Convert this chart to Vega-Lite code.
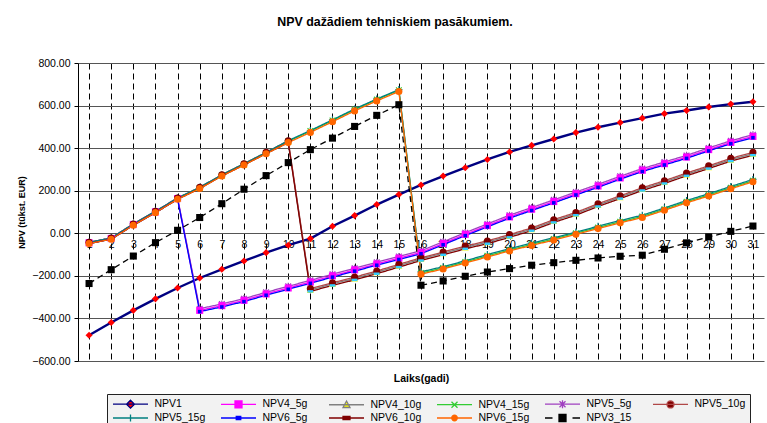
{
  "$schema": "https://vega.github.io/schema/vega-lite/v6.json",
  "width": 686,
  "height": 298,
  "autosize": {"type": "none"},
  "padding": {"left": 78, "top": 63, "right": 3, "bottom": 62},
  "background": "white",
  "config": {"view": {"stroke": null}, "font": "Liberation Sans"},
  "title": {"text": "NPV dažādiem tehniskiem pasākumiem.", "font": "Liberation Sans", "fontSize": 12.4, "fontWeight": "bold", "color": "#000", "anchor": "middle", "dx": -26, "offset": 30},
  "data": {"values": [
    {"t":1,"NPV1":-479,"NPV4_5g":-45,"NPV4_10g":-45,"NPV4_15g":-45,"NPV5_5g":-42,"NPV5_10g":-42,"NPV5_15g":-42,"NPV6_5g":-48,"NPV6_10g":-48,"NPV6_15g":-48,"NPV3_15":-236},
    {"t":2,"NPV1":-419,"NPV4_5g":-25,"NPV4_10g":-25,"NPV4_15g":-25,"NPV5_5g":-22,"NPV5_10g":-22,"NPV5_15g":-22,"NPV6_5g":-28,"NPV6_10g":-28,"NPV6_15g":-28,"NPV3_15":-171},
    {"t":3,"NPV1":-362,"NPV4_5g":41,"NPV4_10g":41,"NPV4_15g":41,"NPV5_5g":44,"NPV5_10g":44,"NPV5_15g":44,"NPV6_5g":38,"NPV6_10g":38,"NPV6_15g":38,"NPV3_15":-107},
    {"t":4,"NPV1":-308,"NPV4_5g":100,"NPV4_10g":100,"NPV4_15g":100,"NPV5_5g":103,"NPV5_10g":103,"NPV5_15g":103,"NPV6_5g":97,"NPV6_10g":97,"NPV6_15g":97,"NPV3_15":-44},
    {"t":5,"NPV1":-257,"NPV4_5g":163,"NPV4_10g":163,"NPV4_15g":163,"NPV5_5g":166,"NPV5_10g":166,"NPV5_15g":166,"NPV6_5g":160,"NPV6_10g":160,"NPV6_15g":160,"NPV3_15":14},
    {"t":6,"NPV1":-210,"NPV4_5g":-362,"NPV4_10g":213,"NPV4_15g":213,"NPV5_5g":-354,"NPV5_10g":216,"NPV5_15g":216,"NPV6_5g":-368,"NPV6_10g":210,"NPV6_15g":210,"NPV3_15":74},
    {"t":7,"NPV1":-169,"NPV4_5g":-340,"NPV4_10g":272,"NPV4_15g":272,"NPV5_5g":-332,"NPV5_10g":275,"NPV5_15g":275,"NPV6_5g":-346,"NPV6_10g":269,"NPV6_15g":269,"NPV3_15":139},
    {"t":8,"NPV1":-130,"NPV4_5g":-315,"NPV4_10g":324,"NPV4_15g":324,"NPV5_5g":-307,"NPV5_10g":327,"NPV5_15g":327,"NPV6_5g":-321,"NPV6_10g":321,"NPV6_15g":321,"NPV3_15":207},
    {"t":9,"NPV1":-91,"NPV4_5g":-285,"NPV4_10g":377,"NPV4_15g":377,"NPV5_5g":-277,"NPV5_10g":380,"NPV5_15g":380,"NPV6_5g":-291,"NPV6_10g":374,"NPV6_15g":374,"NPV3_15":271},
    {"t":10,"NPV1":-56,"NPV4_5g":-257,"NPV4_10g":432,"NPV4_15g":432,"NPV5_5g":-249,"NPV5_10g":435,"NPV5_15g":435,"NPV6_5g":-263,"NPV6_10g":426,"NPV6_15g":426,"NPV3_15":332},
    {"t":11,"NPV1":-25,"NPV4_5g":-229,"NPV4_10g":-266,"NPV4_15g":480,"NPV5_5g":-221,"NPV5_10g":-260,"NPV5_15g":483,"NPV6_5g":-235,"NPV6_10g":-273,"NPV6_15g":474,"NPV3_15":393},
    {"t":12,"NPV1":33,"NPV4_5g":-200,"NPV4_10g":-238,"NPV4_15g":530,"NPV5_5g":-192,"NPV5_10g":-232,"NPV5_15g":533,"NPV6_5g":-206,"NPV6_10g":-245,"NPV6_15g":524,"NPV3_15":447},
    {"t":13,"NPV1":83,"NPV4_5g":-172,"NPV4_10g":-212,"NPV4_15g":581,"NPV5_5g":-164,"NPV5_10g":-206,"NPV5_15g":584,"NPV6_5g":-178,"NPV6_10g":-219,"NPV6_15g":575,"NPV3_15":502},
    {"t":14,"NPV1":135,"NPV4_5g":-144,"NPV4_10g":-183,"NPV4_15g":628,"NPV5_5g":-136,"NPV5_10g":-177,"NPV5_15g":631,"NPV6_5g":-150,"NPV6_10g":-190,"NPV6_15g":622,"NPV3_15":554},
    {"t":15,"NPV1":182,"NPV4_5g":-117,"NPV4_10g":-152,"NPV4_15g":672,"NPV5_5g":-109,"NPV5_10g":-146,"NPV5_15g":675,"NPV6_5g":-123,"NPV6_10g":-159,"NPV6_15g":666,"NPV3_15":604},
    {"t":16,"NPV1":227,"NPV4_5g":-90,"NPV4_10g":-121,"NPV4_15g":-187,"NPV5_5g":-82,"NPV5_10g":-115,"NPV5_15g":-181,"NPV6_5g":-96,"NPV6_10g":-128,"NPV6_15g":-192,"NPV3_15":-244},
    {"t":17,"NPV1":269,"NPV4_5g":-48,"NPV4_10g":-94,"NPV4_15g":-163,"NPV5_5g":-40,"NPV5_10g":-88,"NPV5_15g":-157,"NPV6_5g":-54,"NPV6_10g":-101,"NPV6_15g":-168,"NPV3_15":-224},
    {"t":18,"NPV1":308,"NPV4_5g":-5,"NPV4_10g":-66,"NPV4_15g":-135,"NPV5_5g":3,"NPV5_10g":-60,"NPV5_15g":-129,"NPV6_5g":-11,"NPV6_10g":-73,"NPV6_15g":-140,"NPV3_15":-202},
    {"t":19,"NPV1":347,"NPV4_5g":36,"NPV4_10g":-42,"NPV4_15g":-106,"NPV5_5g":44,"NPV5_10g":-36,"NPV5_15g":-100,"NPV6_5g":30,"NPV6_10g":-49,"NPV6_15g":-111,"NPV3_15":-182},
    {"t":20,"NPV1":382,"NPV4_5g":77,"NPV4_10g":-12,"NPV4_15g":-78,"NPV5_5g":85,"NPV5_10g":-6,"NPV5_15g":-72,"NPV6_5g":71,"NPV6_10g":-19,"NPV6_15g":-83,"NPV3_15":-166},
    {"t":21,"NPV1":413,"NPV4_5g":113,"NPV4_10g":19,"NPV4_15g":-52,"NPV5_5g":121,"NPV5_10g":25,"NPV5_15g":-46,"NPV6_5g":107,"NPV6_10g":12,"NPV6_15g":-57,"NPV3_15":-150},
    {"t":22,"NPV1":443,"NPV4_5g":149,"NPV4_10g":58,"NPV4_15g":-27,"NPV5_5g":157,"NPV5_10g":64,"NPV5_15g":-21,"NPV6_5g":143,"NPV6_10g":51,"NPV6_15g":-32,"NPV3_15":-138},
    {"t":23,"NPV1":473,"NPV4_5g":186,"NPV4_10g":92,"NPV4_15g":0,"NPV5_5g":194,"NPV5_10g":98,"NPV5_15g":6,"NPV6_5g":180,"NPV6_10g":85,"NPV6_15g":-5,"NPV3_15":-127},
    {"t":24,"NPV1":498,"NPV4_5g":222,"NPV4_10g":133,"NPV4_15g":27,"NPV5_5g":230,"NPV5_10g":139,"NPV5_15g":33,"NPV6_5g":216,"NPV6_10g":126,"NPV6_15g":22,"NPV3_15":-116},
    {"t":25,"NPV1":520,"NPV4_5g":260,"NPV4_10g":170,"NPV4_15g":54,"NPV5_5g":268,"NPV5_10g":176,"NPV5_15g":60,"NPV6_5g":254,"NPV6_10g":163,"NPV6_15g":49,"NPV3_15":-108},
    {"t":26,"NPV1":541,"NPV4_5g":296,"NPV4_10g":208,"NPV4_15g":79,"NPV5_5g":304,"NPV5_10g":214,"NPV5_15g":85,"NPV6_5g":290,"NPV6_10g":201,"NPV6_15g":74,"NPV3_15":-103},
    {"t":27,"NPV1":562,"NPV4_5g":327,"NPV4_10g":241,"NPV4_15g":113,"NPV5_5g":335,"NPV5_10g":247,"NPV5_15g":119,"NPV6_5g":321,"NPV6_10g":234,"NPV6_15g":108,"NPV3_15":-75},
    {"t":28,"NPV1":577,"NPV4_5g":358,"NPV4_10g":277,"NPV4_15g":148,"NPV5_5g":366,"NPV5_10g":283,"NPV5_15g":154,"NPV6_5g":352,"NPV6_10g":270,"NPV6_15g":143,"NPV3_15":-45},
    {"t":29,"NPV1":593,"NPV4_5g":393,"NPV4_10g":311,"NPV4_15g":180,"NPV5_5g":401,"NPV5_10g":317,"NPV5_15g":186,"NPV6_5g":387,"NPV6_10g":304,"NPV6_15g":175,"NPV3_15":-17},
    {"t":30,"NPV1":607,"NPV4_5g":427,"NPV4_10g":346,"NPV4_15g":214,"NPV5_5g":435,"NPV5_10g":352,"NPV5_15g":220,"NPV6_5g":421,"NPV6_10g":339,"NPV6_15g":209,"NPV3_15":9},
    {"t":31,"NPV1":618,"NPV4_5g":455,"NPV4_10g":374,"NPV4_15g":247,"NPV5_5g":463,"NPV5_10g":380,"NPV5_15g":253,"NPV6_5g":449,"NPV6_10g":367,"NPV6_15g":242,"NPV3_15":34}
  ]},
  "transform": [
    {"fold": ["NPV1","NPV4_5g","NPV4_10g","NPV4_15g","NPV5_5g","NPV5_10g","NPV5_15g","NPV6_5g","NPV6_10g","NPV6_15g","NPV3_15"], "as": ["s", "v"]}
  ],
  "encoding": {
    "x": {"field": "t", "type": "quantitative", "scale": {"domain": [0.5, 31.5], "nice": false, "zero": false},
      "axis": {"values": [1,2,3,4,5,6,7,8,9,10,11,12,13,14,15,16,17,18,19,20,21,22,23,24,25,26,27,28,29,30,31], "format": "d", "offset": -128, "domain": false, "ticks": false, "labelPadding": 6, "labelFont": "Liberation Sans", "labelFontSize": 10.5, "labelColor": "#000", "labelFlush": false, "labelOverlap": false, "grid": true, "gridDash": [6, 4], "gridColor": "#000", "gridWidth": 1, "gridOpacity": 1, "title": "Laiks(gadi)", "titleFont": "Liberation Sans", "titleFontSize": 10.5, "titleFontWeight": "bold", "titleColor": "#000", "titleY": 145, "titleBaseline": "middle"}},
    "y": {"field": "v", "type": "quantitative", "scale": {"domain": [-600, 800], "nice": false, "zero": false},
      "axis": {"values": [-600,-400,-200,0,200,400,600,800], "format": ".2f", "labelFont": "Liberation Sans", "labelFontSize": 10.5, "labelColor": "#000", "labelPadding": 4, "tickSize": 4, "tickColor": "#000", "domainColor": "#000", "domainWidth": 1, "grid": true, "gridColor": "#555", "gridWidth": 1, "gridOpacity": 1, "title": "NPV (tūkst. EUR)", "titleFont": "Liberation Sans", "titleFontSize": 9, "titleFontWeight": "bold", "titleColor": "#000", "titleX": -57, "titleBaseline": "middle"}}
  },
  "layer": [
    {
      "transform": [{"filter": {"field": "s", "equal": "NPV1"}}],
      "mark": {"type": "line", "strokeWidth": 2.4},
      "encoding": {
        "stroke": {"field": "s", "type": "nominal",
          "scale": {"domain": ["NPV1","NPV4_5g","NPV4_10g","NPV4_15g","NPV5_5g","NPV5_10g","NPV5_15g","NPV6_5g","NPV6_10g","NPV6_15g","NPV3_15"], "range": ["#000080","#FF00FF","#808080","#33CC33","#A040C0","#B04848","#008080","#0000FF","#800000","#FF6600","#000000"]},
          "legend": {"orient": "none", "legendX": 29, "legendY": 331, "columns": 6, "direction": "horizontal", "title": null, "fillColor": "#f2f2f2", "strokeColor": "#222", "padding": 4, "symbolSize": 100, "symbolStrokeWidth": 1.5, "symbolOffset": 13.5, "labelOffset": 18, "columnPadding": 12, "rowPadding": 0, "gridAlign": "all", "labelFont": "Liberation Sans", "labelFontSize": 10.5, "labelColor": "#000",
            "encode": {"symbols": {"update": {
              "shape": {"signal": "datum.value === 'NPV1' ? 'M-3.5,0L3.5,0M0,-0.8L0.8,0L0,0.8L-0.8,0Z' : datum.value === 'NPV4_5g' ? 'M-3.5,0L3.5,0M-0.7,-0.7L0.7,-0.7L0.7,0.7L-0.7,0.7Z' : datum.value === 'NPV4_10g' ? 'M-3.5,0L3.5,0M0,-0.75L0.7,0.55L-0.7,0.55Z' : datum.value === 'NPV4_15g' ? 'M-3.5,0L3.5,0M-0.6,-0.6L0.6,0.6M-0.6,0.6L0.6,-0.6' : datum.value === 'NPV5_5g' ? 'M-3.5,0L3.5,0M-0.6,-0.6L0.6,0.6M-0.6,0.6L0.6,-0.6M0,-0.8L0,0.8' : datum.value === 'NPV5_10g' ? 'M-3.5,0L3.5,0M0.7,0A0.7,0.7,0,1,1,-0.7,0A0.7,0.7,0,1,1,0.7,0Z' : datum.value === 'NPV5_15g' ? 'M-3.5,0L3.5,0M0,-0.7L0,0.7' : datum.value === 'NPV6_5g' ? 'M-3.5,0L3.5,0M-0.45,-0.3L0.45,-0.3L0.45,0.3L-0.45,0.3Z' : datum.value === 'NPV6_10g' ? 'M-3.5,0L3.5,0M-0.7,-0.3L0.7,-0.3L0.7,0.3L-0.7,0.3Z' : datum.value === 'NPV6_15g' ? 'M-3.5,0L3.5,0M0.55,0A0.55,0.55,0,1,1,-0.55,0A0.55,0.55,0,1,1,0.55,0Z' : 'M-3.5,0L-2,0M2,0L3.5,0M-0.7,-0.7L0.7,-0.7L0.7,0.7L-0.7,0.7Z'"},
              "fill": {"scale": "fill", "field": "value"},
              "stroke": {"scale": "stroke", "field": "value"},
              "strokeWidth": {"value": 1.3},
              "strokeDash": {"value": []},
              "opacity": {"value": 1}
            }}}
          }
        }
      }
    },
    {
      "transform": [{"filter": {"not": {"field": "s", "equal": "NPV1"}}}],
      "mark": {"type": "line", "strokeWidth": 1.3},
      "encoding": {
        "stroke": {"field": "s", "type": "nominal",
          "scale": {"domain": ["NPV1","NPV4_5g","NPV4_10g","NPV4_15g","NPV5_5g","NPV5_10g","NPV5_15g","NPV6_5g","NPV6_10g","NPV6_15g","NPV3_15"], "range": ["#000080","#FF00FF","#808080","#33CC33","#A040C0","#B04848","#008080","#0000FF","#800000","#FF6600","#000000"]},
          "legend": null},
        "strokeDash": {"field": "s", "type": "nominal",
          "scale": {"domain": ["NPV1","NPV4_5g","NPV4_10g","NPV4_15g","NPV5_5g","NPV5_10g","NPV5_15g","NPV6_5g","NPV6_10g","NPV6_15g","NPV3_15","~d"], "range": [[1,0],[1,0],[1,0],[1,0],[1,0],[1,0],[1,0],[1,0],[1,0],[1,0],[6,4],[1,0]]},
          "legend": null}
      }
    },
    {
      "transform": [{"filter": {"field": "s", "oneOf": ["NPV4_15g","NPV5_5g","NPV5_15g"]}}],
      "mark": {"type": "point", "filled": false, "size": 50, "strokeWidth": 1.2, "opacity": 1},
      "encoding": {
        "stroke": {"field": "s", "type": "nominal",
          "scale": {"domain": ["NPV1","NPV4_5g","NPV4_10g","NPV4_15g","NPV5_5g","NPV5_10g","NPV5_15g","NPV6_5g","NPV6_10g","NPV6_15g","NPV3_15"], "range": ["#000080","#FF00FF","#808080","#33CC33","#A040C0","#B04848","#008080","#0000FF","#800000","#FF6600","#000000"]},
          "legend": null},
        "shape": {"field": "s", "type": "nominal",
          "scale": {"domain": ["NPV1","NPV4_5g","NPV4_10g","NPV4_15g","NPV5_5g","NPV5_10g","NPV5_15g","NPV6_5g","NPV6_10g","NPV6_15g","NPV3_15","~s"], "range": ["diamond","square","triangle-up","M-0.8,-0.8L0.8,0.8M-0.8,0.8L0.8,-0.8","M-0.8,-0.8L0.8,0.8M-0.8,0.8L0.8,-0.8M0,-1L0,1","circle","M-1,0L1,0M0,-1L0,1","M-0.5,-0.5L0.5,-0.5L0.5,0.5L-0.5,0.5Z","M-0.8,-0.35L0.8,-0.35L0.8,0.35L-0.8,0.35Z","circle","square","circle"]},
          "legend": null}
      }
    },
    {
      "transform": [{"filter": {"not": {"field": "s", "oneOf": ["NPV4_15g","NPV5_5g","NPV5_15g"]}}}],
      "mark": {"type": "point", "filled": true, "size": 50, "opacity": 1, "strokeWidth": 0},
      "encoding": {
        "fill": {"field": "s", "type": "nominal",
          "scale": {"domain": ["NPV1","NPV4_5g","NPV4_10g","NPV4_15g","NPV5_5g","NPV5_10g","NPV5_15g","NPV6_5g","NPV6_10g","NPV6_15g","NPV3_15","~f"], "range": ["#FF0000","#FF00FF","#FFFF00","#00FF00","#800080","#800000","#008080","#0000FF","#33CCFF","#FF6600","#000000","#000000"]},
          "legend": null},
        "shape": {"field": "s", "type": "nominal",
          "scale": {"domain": ["NPV1","NPV4_5g","NPV4_10g","NPV4_15g","NPV5_5g","NPV5_10g","NPV5_15g","NPV6_5g","NPV6_10g","NPV6_15g","NPV3_15","~s"], "range": ["diamond","square","triangle-up","M-0.8,-0.8L0.8,0.8M-0.8,0.8L0.8,-0.8","M-0.8,-0.8L0.8,0.8M-0.8,0.8L0.8,-0.8M0,-1L0,1","circle","M-1,0L1,0M0,-1L0,1","M-0.5,-0.5L0.5,-0.5L0.5,0.5L-0.5,0.5Z","M-0.8,-0.35L0.8,-0.35L0.8,0.35L-0.8,0.35Z","circle","square","circle"]},
          "legend": null}
      }
    }
  ]
}
